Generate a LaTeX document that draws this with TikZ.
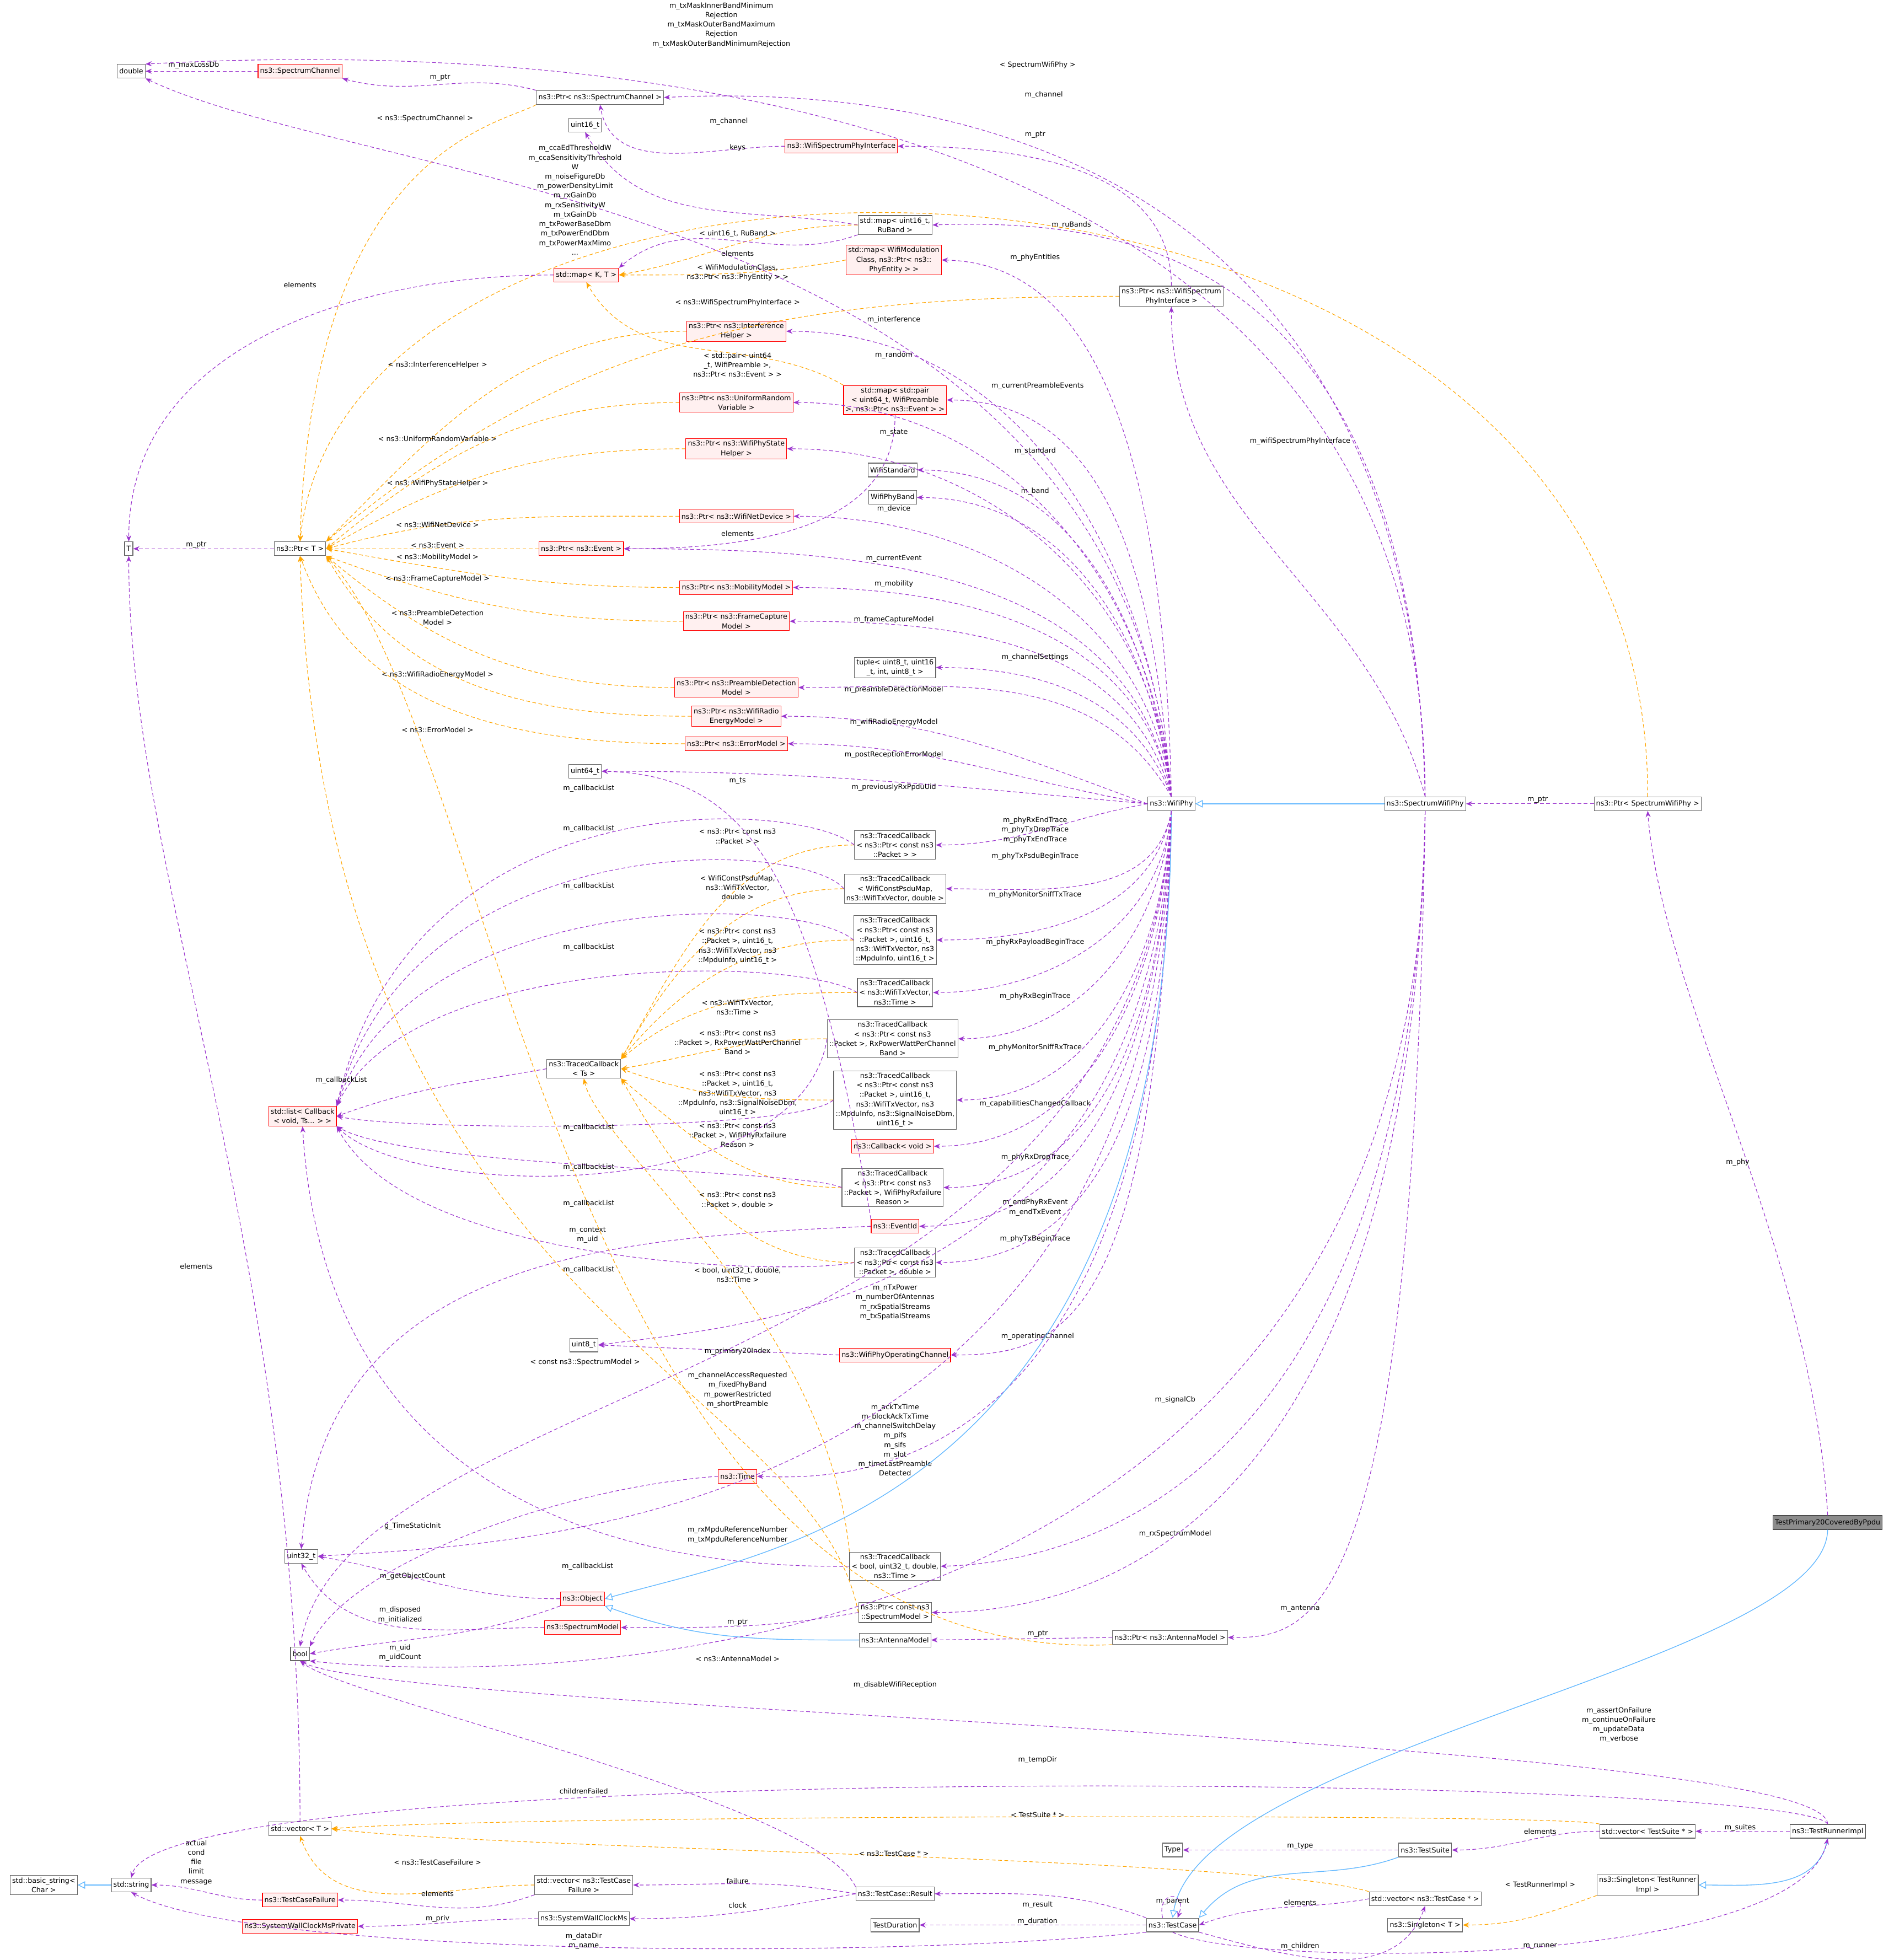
\documentclass[tikz,border=0pt]{standalone}
\usepackage{fontspec}
\setmainfont{DejaVu Sans}
\usetikzlibrary{arrows.meta}
\definecolor{pur}{HTML}{9A32CD}
\definecolor{org}{HTML}{FFA500}
\definecolor{blu}{HTML}{63B8FF}
\definecolor{rbg}{HTML}{FFF0F0}
\newcommand\lb[3]{\node[lbl] at (#1,-#2) {#3};}
\begin{document}
\begin{tikzpicture}[x=1pt,y=1pt,font=\fontsize{5.6}{7.6}\selectfont,
 bx/.style={draw=black!60, fill=white, inner sep=1.6pt, align=center, minimum height=11pt, line width=0.5pt},
 rb/.style={bx, draw=red, fill=rbg},
 gb/.style={bx, draw=black!70, fill=black!45},
 mem/.style={pur, dash pattern=on 3pt off 2pt, line width=0.5pt, -{Stealth[length=5pt,width=4pt]}},
 tpl/.style={org, dash pattern=on 3pt off 2pt, line width=0.5pt, -{Stealth[length=5pt,width=4pt]}},
 inh/.style={blu, line width=0.6pt, -{Triangle[open,length=6pt,width=6pt]}},
 lbl/.style={align=center, inner sep=0.5pt}]
\useasboundingbox (0,0) rectangle (1515,-1568);
% nodes
\node[bx] (dbl) at (105,-57) {double};
\node[rb] (sch) at (240,-57) {ns3::SpectrumChannel};
\node[bx] (psc) at (480,-78) {ns3::Ptr< ns3::SpectrumChannel >};
\node[bx] (u16) at (468,-100) {uint16\_t};
\node[rb] (wspi) at (673,-117) {ns3::WifiSpectrumPhyInterface};
\node[bx] (mru) at (716,-180) {std::map< uint16\_t,\\ RuBand >};
\node[rb] (mkt) at (469,-220) {std::map< K, T >};
\node[rb] (mwm) at (715,-208) {std::map< WifiModulation\\Class, ns3::Ptr< ns3::\\PhyEntity > >};
\node[bx] (pwspi) at (937,-237) {ns3::Ptr< ns3::WifiSpectrum\\PhyInterface >};
\node[rb] (pih) at (589,-265) {ns3::Ptr< ns3::Interference\\Helper >};
\node[rb] (urv) at (589,-322) {ns3::Ptr< ns3::UniformRandom\\Variable >};
\node[rb] (mp) at (716,-320) {std::map< std::pair\\< uint64\_t, WifiPreamble\\>, ns3::Ptr< ns3::Event > >};
\node[rb] (psh) at (589,-359) {ns3::Ptr< ns3::WifiPhyState\\Helper >};
\node[bx] (wstd) at (714,-376) {WifiStandard};
\node[bx] (wband) at (714,-398) {WifiPhyBand};
\node[rb] (pnd) at (589,-413) {ns3::Ptr< ns3::WifiNetDevice >};
\node[rb] (pev) at (465,-439) {ns3::Ptr< ns3::Event >};
\node[bx] (T) at (103,-439) {T};
\node[bx] (ptrT) at (240,-439) {ns3::Ptr< T >};
\node[rb] (pmob) at (589,-470) {ns3::Ptr< ns3::MobilityModel >};
\node[rb] (pfc) at (589,-497) {ns3::Ptr< ns3::FrameCapture\\Model >};
\node[bx] (tup) at (716,-534) {tuple< uint8\_t, uint16\\\_t, int, uint8\_t >};
\node[rb] (ppd) at (589,-550) {ns3::Ptr< ns3::PreambleDetection\\Model >};
\node[rb] (pre) at (589,-573) {ns3::Ptr< ns3::WifiRadio\\EnergyModel >};
\node[rb] (perr) at (589,-595) {ns3::Ptr< ns3::ErrorModel >};
\node[bx] (u64) at (468,-617) {uint64\_t};
\node[bx] (wp) at (937,-643) {ns3::WifiPhy};
\node[bx] (swp) at (1140,-643) {ns3::SpectrumWifiPhy};
\node[bx] (pswp) at (1318,-643) {ns3::Ptr< SpectrumWifiPhy >};
\node[bx] (tc1) at (716,-676) {ns3::TracedCallback\\< ns3::Ptr< const ns3\\::Packet > >};
\node[bx] (tc2) at (716,-711) {ns3::TracedCallback\\< WifiConstPsduMap,\\ ns3::WifiTxVector, double >};
\node[bx] (tc3) at (716,-752) {ns3::TracedCallback\\< ns3::Ptr< const ns3\\::Packet >, uint16\_t,\\ ns3::WifiTxVector, ns3\\::MpduInfo, uint16\_t >};
\node[bx] (tc4) at (716,-794) {ns3::TracedCallback\\< ns3::WifiTxVector,\\ ns3::Time >};
\node[bx] (tc5) at (714,-831) {ns3::TracedCallback\\< ns3::Ptr< const ns3\\::Packet >, RxPowerWattPerChannel\\Band >};
\node[bx] (tcts) at (467,-855) {ns3::TracedCallback\\< Ts >};
\node[rb] (lst) at (242,-893) {std::list< Callback\\< void, Ts... > >};
\node[bx] (tc6) at (716,-880) {ns3::TracedCallback\\< ns3::Ptr< const ns3\\::Packet >, uint16\_t,\\ ns3::WifiTxVector, ns3\\::MpduInfo, ns3::SignalNoiseDbm,\\ uint16\_t >};
\node[rb] (cbv) at (714,-917) {ns3::Callback< void >};
\node[bx] (tc7) at (714,-950) {ns3::TracedCallback\\< ns3::Ptr< const ns3\\::Packet >, WifiPhyRxfailure\\Reason >};
\node[rb] (eid) at (716,-981) {ns3::EventId};
\node[bx] (tc9) at (716,-1010) {ns3::TracedCallback\\< ns3::Ptr< const ns3\\::Packet >, double >};
\node[bx] (u8) at (467,-1076) {uint8\_t};
\node[rb] (opch) at (716,-1084) {ns3::WifiPhyOperatingChannel};
\node[rb] (time) at (590,-1181) {ns3::Time};
\node[bx] (u32) at (241,-1245) {uint32\_t};
\node[bx] (tcb) at (716,-1253) {ns3::TracedCallback\\< bool, uint32\_t, double,\\ ns3::Time >};
\node[rb] (obj) at (466,-1279) {ns3::Object};
\node[bx] (pcsm) at (716,-1290) {ns3::Ptr< const ns3\\::SpectrumModel >};
\node[rb] (sm) at (466,-1302) {ns3::SpectrumModel};
\node[bx] (bool) at (240,-1323) {bool};
\node[bx] (am) at (716,-1312) {ns3::AntennaModel};
\node[bx] (pant) at (936,-1310) {ns3::Ptr< ns3::AntennaModel >};
\node[gb] (tp) at (1462,-1218) {TestPrimary20CoveredByPpdu};
\node[bx] (vT) at (240,-1463) {std::vector< T >};
\node[bx] (vts) at (1318,-1465) {std::vector< TestSuite * >};
\node[bx] (tri) at (1462,-1465) {ns3::TestRunnerImpl};
\node[bx] (type) at (938,-1480) {Type};
\node[bx] (ts) at (1140,-1480) {ns3::TestSuite};
\node[bx] (sgl) at (1318,-1508) {ns3::Singleton< TestRunner\\Impl >};
\node[bx] (vtcf) at (467,-1508) {std::vector< ns3::TestCase\\Failure >};
\node[bx] (bs) at (35,-1508) {std::basic\_string<\\Char >};
\node[bx] (str) at (105,-1508) {std::string};
\node[rb] (tcf) at (240,-1520) {ns3::TestCaseFailure};
\node[bx] (res) at (716,-1515) {ns3::TestCase::Result};
\node[bx] (vtc) at (1140,-1519) {std::vector< ns3::TestCase * >};
\node[bx] (swc) at (467,-1535) {ns3::SystemWallClockMs};
\node[bx] (sglT) at (1140,-1540) {ns3::Singleton< T >};
\node[bx] (td) at (716,-1540) {TestDuration};
\node[bx] (tc) at (938,-1540) {ns3::TestCase};
\node[rb] (swcp) at (240,-1541) {ns3::SystemWallClockMsPrivate};
% top area
\draw[mem] (sch.west) -- (dbl.east); \lb{155}{52}{m\_maxLossDb}
\draw[mem] (psc.north west) to[out=165,in=-15] (sch.south east); \lb{352}{62}{m\_ptr}
\draw[mem] (swp.north) .. controls (1140,-45) and (400,-36) .. (dbl.north east);
\lb{577}{20}{m\_txMaskInnerBandMinimum\\Rejection\\m\_txMaskOuterBandMaximum\\Rejection\\m\_txMaskOuterBandMinimumRejection}
\draw[mem] (swp.north) .. controls (1130,-90) and (700,-70) .. (psc.east); \lb{835}{76}{m\_channel}
\draw[mem] (wspi.west) to[out=180,in=-80] (psc.south); \lb{583}{97}{m\_channel}
\draw[tpl] (pswp.north) .. controls (1320,-60) and (280,-50) .. (ptrT.north); \lb{830}{52}{< SpectrumWifiPhy >}
\draw[tpl] (psc.south west) .. controls (400,-100) and (250,-120) .. (ptrT.north); \lb{340}{95}{< ns3::SpectrumChannel >}
\draw[mem] (mru.west) to[out=170,in=-60] (u16.south); \lb{590}{118}{keys}
\draw[mem] (pwspi.north) to[out=90,in=0] (wspi.east); \lb{828}{108}{m\_ptr}
\draw[mem] (wp.north) .. controls (900,-160) and (300,-150) .. (dbl.south east);
\lb{460}{160}{m\_ccaEdThresholdW\\m\_ccaSensitivityThreshold\\W\\m\_noiseFigureDb\\m\_powerDensityLimit\\m\_rxGainDb\\m\_rxSensitivityW\\m\_txGainDb\\m\_txPowerBaseDbm\\m\_txPowerEndDbm\\m\_txPowerMaxMimo\\...}
\draw[mem] (swp.north) .. controls (1130,-200) and (900,-175) .. (mru.east); \lb{857}{180}{m\_ruBands}
\draw[tpl] (mru.west) to[out=180,in=10] (mkt.east); \lb{590}{187}{< uint16\_t, RuBand >}
\draw[mem] (mru.south west) to[out=200,in=40] (mkt.north east); \lb{590}{203}{elements}
\draw[mem] (wp.north) .. controls (930,-300) and (850,-210) .. (mwm.east); \lb{828}{206}{m\_phyEntities}
\draw[tpl] (mwm.west) to[out=190,in=0] (mkt.east); \lb{590}{218}{< WifiModulationClass,\\ ns3::Ptr< ns3::PhyEntity > >}
\draw[mem] (mkt.west) to[out=180,in=90] (T.north); \lb{240}{228}{elements}
\draw[tpl] (mp.north west) to[out=150,in=-60] (mkt.south); \lb{590}{292}{< std::pair< uint64\\\_t, WifiPreamble >,\\ ns3::Ptr< ns3::Event > >}
\draw[mem] (mp.south) to[out=-90,in=0] (pev.east); \lb{590}{427}{elements}
\draw[tpl] (pwspi.west) to[out=180,in=40] (ptrT.north east); \lb{590}{242}{< ns3::WifiSpectrumPhyInterface >}
\draw[mem] (swp.north) to[out=105,in=-90] (pwspi.south); \lb{1040}{353}{m\_wifiSpectrumPhyInterface}
% WifiPhy upward members
\draw[mem] (wp.north) to[out=95,in=0] (pih.east); \lb{715}{256}{m\_interference}
\draw[tpl] (pih.west) to[out=180,in=45] (ptrT.north east); \lb{350}{292}{< ns3::InterferenceHelper >}
\draw[mem] (wp.north) to[out=95,in=0] (urv.east); \lb{715}{284}{m\_random}
\draw[tpl] (urv.west) to[out=180,in=40] (ptrT.east); \lb{350}{351}{< ns3::UniformRandomVariable >}
\draw[mem] (wp.north) to[out=95,in=0] (mp.east); \lb{830}{309}{m\_currentPreambleEvents}
\draw[mem] (wp.north) to[out=95,in=0] (psh.east); \lb{715}{346}{m\_state}
\draw[tpl] (psh.west) to[out=180,in=30] (ptrT.east); \lb{350}{387}{< ns3::WifiPhyStateHelper >}
\draw[mem] (wp.north) to[out=97,in=0] (wstd.east); \lb{828}{361}{m\_standard}
\draw[mem] (wp.north) to[out=97,in=0] (wband.east); \lb{828}{393}{m\_band}
\draw[mem] (wp.north) to[out=97,in=0] (pnd.east); \lb{715}{407}{m\_device}
\draw[tpl] (pnd.west) to[out=180,in=15] (ptrT.east); \lb{350}{420}{< ns3::WifiNetDevice >}
\draw[tpl] (pev.west) -- (ptrT.east); \lb{350}{436}{< ns3::Event >}
\draw[mem] (wp.north) to[out=100,in=0] (pev.east); \lb{715}{447}{m\_currentEvent}
\draw[mem] (ptrT.west) -- (T.east); \lb{157}{436}{m\_ptr}
\draw[tpl] (pmob.west) to[out=180,in=-10] (ptrT.east); \lb{350}{446}{< ns3::MobilityModel >}
\draw[mem] (wp.north) to[out=100,in=0] (pmob.east); \lb{715}{467}{m\_mobility}
\draw[tpl] (pfc.west) to[out=180,in=-20] (ptrT.south east); \lb{350}{463}{< ns3::FrameCaptureModel >}
\draw[mem] (wp.north) to[out=105,in=0] (pfc.east); \lb{715}{496}{m\_frameCaptureModel}
\draw[mem] (wp.north) to[out=110,in=0] (tup.east); \lb{828}{526}{m\_channelSettings}
\draw[tpl] (ppd.west) to[out=180,in=-40] (ptrT.south east); \lb{350}{494}{< ns3::PreambleDetection\\Model >}
\draw[mem] (wp.north) to[out=120,in=0] (ppd.east); \lb{715}{552}{m\_preambleDetectionModel}
\draw[tpl] (pre.west) to[out=180,in=-60] (ptrT.south east); \lb{350}{540}{< ns3::WifiRadioEnergyModel >}
\draw[mem] (wp.west) to[out=160,in=0] (pre.east); \lb{715}{578}{m\_wifiRadioEnergyModel}
\draw[tpl] (perr.west) to[out=180,in=-70] (ptrT.south); \lb{350}{584}{< ns3::ErrorModel >}
\draw[mem] (wp.west) to[out=170,in=0] (perr.east); \lb{715}{604}{m\_postReceptionErrorModel}
\draw[mem] (wp.west) to[out=175,in=0] (u64.east); \lb{715}{630}{m\_previouslyRxPpduUid}
\draw[mem] (eid.north west) .. controls (650,-700) and (600,-620) .. (u64.east); \lb{590}{625}{m\_ts}
% inheritance and Ptr<SWP>
\draw[inh] (swp.west) -- (wp.east);
\draw[mem] (pswp.west) -- (swp.east); \lb{1230}{640}{m\_ptr}
\draw[mem] (tp.north) .. controls (1450,-1000) and (1330,-800) .. (pswp.south); \lb{1390}{930}{m\_phy}
% traced callbacks
\draw[mem] (wp.west) to[out=190,in=0] (tc1.east); \lb{828}{664}{m\_phyRxEndTrace\\m\_phyTxDropTrace\\m\_phyTxEndTrace}
\draw[mem] (wp.south) to[out=-100,in=0] (tc2.east); \lb{828}{685}{m\_phyTxPsduBeginTrace}
\draw[mem] (wp.south) to[out=-100,in=0] (tc3.east); \lb{828}{716}{m\_phyMonitorSniffTxTrace}
\draw[mem] (wp.south) to[out=-95,in=0] (tc4.east); \lb{828}{754}{m\_phyRxPayloadBeginTrace}
\draw[mem] (wp.south) to[out=-95,in=0] (tc5.east); \lb{828}{797}{m\_phyRxBeginTrace}
\draw[mem] (wp.south) to[out=-93,in=0] (tc6.east); \lb{828}{838}{m\_phyMonitorSniffRxTrace}
\draw[mem] (wp.south) to[out=-93,in=0] (cbv.east); \lb{828}{883}{m\_capabilitiesChangedCallback}
\draw[mem] (wp.south) to[out=-92,in=0] (tc7.east); \lb{828}{926}{m\_phyRxDropTrace}
\draw[mem] (wp.south) to[out=-92,in=0] (eid.east); \lb{828}{966}{m\_endPhyRxEvent\\m\_endTxEvent}
\draw[mem] (wp.south) to[out=-91,in=0] (tc9.east); \lb{828}{991}{m\_phyTxBeginTrace}
\draw[tpl] (tc1.west) to[out=180,in=60] (tcts.north east); \lb{590}{669}{< ns3::Ptr< const ns3\\::Packet > >}
\draw[tpl] (tc2.west) to[out=180,in=60] (tcts.north east); \lb{590}{710}{< WifiConstPsduMap,\\ ns3::WifiTxVector,\\ double >}
\draw[tpl] (tc3.west) to[out=180,in=50] (tcts.north east); \lb{590}{757}{< ns3::Ptr< const ns3\\::Packet >, uint16\_t,\\ ns3::WifiTxVector, ns3\\::MpduInfo, uint16\_t >}
\draw[tpl] (tc4.west) to[out=180,in=40] (tcts.north east); \lb{590}{806}{< ns3::WifiTxVector,\\ ns3::Time >}
\draw[tpl] (tc5.west) to[out=180,in=10] (tcts.east); \lb{590}{834}{< ns3::Ptr< const ns3\\::Packet >, RxPowerWattPerChannel\\Band >}
\draw[tpl] (tc6.west) to[out=180,in=-20] (tcts.east); \lb{590}{875}{< ns3::Ptr< const ns3\\::Packet >, uint16\_t,\\ ns3::WifiTxVector, ns3\\::MpduInfo, ns3::SignalNoiseDbm,\\ uint16\_t >}
\draw[tpl] (tc7.west) to[out=180,in=-40] (tcts.south east); \lb{590}{908}{< ns3::Ptr< const ns3\\::Packet >, WifiPhyRxfailure\\Reason >}
\draw[tpl] (tc9.west) to[out=180,in=-60] (tcts.south east); \lb{590}{960}{< ns3::Ptr< const ns3\\::Packet >, double >}
\draw[tpl] (tcb.north west) .. controls (660,-1050) and (480,-920) .. (tcts.south); \lb{590}{1020}{< bool, uint32\_t, double,\\ ns3::Time >}
\draw[mem] (tc1.west) .. controls (640,-640) and (330,-620) .. (lst.north east); \lb{471}{631}{m\_callbackList}
\draw[mem] (tc2.west) .. controls (640,-670) and (330,-660) .. (lst.north east); \lb{471}{663}{m\_callbackList}
\draw[mem] (tc3.west) .. controls (640,-715) and (330,-710) .. (lst.north east); \lb{471}{709}{m\_callbackList}
\draw[mem] (tc4.west) .. controls (640,-765) and (330,-760) .. (lst.north east); \lb{471}{758}{m\_callbackList}
\draw[mem] (tcts.west) to[out=190,in=20] (lst.east); \lb{273}{864}{m\_callbackList}
\draw[mem] (tc6.west) .. controls (640,-905) and (330,-905) .. (lst.east); \lb{471}{902}{m\_callbackList}
\draw[mem] (tc7.west) .. controls (640,-935) and (330,-935) .. (lst.south east); \lb{471}{934}{m\_callbackList}
\draw[mem] (tc5.west) .. controls (640,-965) and (330,-960) .. (lst.south east); \lb{471}{963}{m\_callbackList}
\draw[mem] (tc9.west) .. controls (640,-1020) and (330,-1015) .. (lst.south east); \lb{471}{1016}{m\_callbackList}
\draw[mem] (tcb.west) .. controls (500,-1255) and (260,-1200) .. (lst.south); \lb{470}{1253}{m\_callbackList}
% lower WifiPhy
\draw[mem] (eid.west) .. controls (500,-990) and (260,-1000) .. (u32.north); \lb{470}{988}{m\_context\\m\_uid}
\draw[mem] (wp.south) .. controls (920,-1040) and (600,-1060) .. (u8.east); \lb{716}{1042}{m\_nTxPower\\m\_numberOfAntennas\\m\_rxSpatialStreams\\m\_txSpatialStreams}
\draw[mem] (opch.west) -- (u8.east); \lb{590}{1081}{m\_primary20Index}
\draw[mem] (wp.south) .. controls (925,-1060) and (850,-1084) .. (opch.east); \lb{830}{1069}{m\_operatingChannel}
\draw[tpl] (pcsm.west) .. controls (650,-1100) and (260,-1050) .. (ptrT.south); \lb{468}{1090}{< const ns3::SpectrumModel >}
\draw[mem] (wp.south) .. controls (910,-1110) and (280,-1100) .. (bool.north); \lb{590}{1112}{m\_channelAccessRequested\\m\_fixedPhyBand\\m\_powerRestricted\\m\_shortPreamble}
\draw[mem] (wp.south) .. controls (930,-1170) and (700,-1185) .. (time.east); \lb{716}{1152}{m\_ackTxTime\\m\_blockAckTxTime\\m\_channelSwitchDelay\\m\_pifs\\m\_sifs\\m\_slot\\m\_timeLastPreamble\\Detected}
\draw[mem] (swp.south) .. controls (1130,-1200) and (850,-1250) .. (tcb.east); \lb{940}{1120}{m\_signalCb}
\draw[mem] (time.west) .. controls (450,-1190) and (280,-1250) .. (bool.north east); \lb{330}{1221}{g\_TimeStaticInit}
\draw[inh] (wp.south) .. controls (935,-1200) and (620,-1240) .. (obj.east);
\draw[mem] (wp.south) .. controls (925,-1230) and (400,-1235) .. (u32.east); \lb{590}{1228}{m\_rxMpduReferenceNumber\\m\_txMpduReferenceNumber}
\draw[mem] (swp.south) .. controls (1130,-1250) and (850,-1290) .. (pcsm.east); \lb{940}{1227}{m\_rxSpectrumModel}
\draw[mem] (obj.west) to[out=180,in=-10] (u32.east); \lb{330}{1261}{m\_getObjectCount}
\draw[mem] (obj.south west) to[out=200,in=10] (bool.east); \lb{320}{1292}{m\_disposed\\m\_initialized}
\draw[mem] (pcsm.west) to[out=190,in=0] (sm.east); \lb{590}{1298}{m\_ptr}
\draw[mem] (sm.west) to[out=180,in=-60] (u32.south); \lb{320}{1322}{m\_uid\\m\_uidCount}
\draw[inh] (am.west) to[out=180,in=-20] (obj.south east);
\draw[mem] (pant.west) -- (am.east); \lb{830}{1307}{m\_ptr}
\draw[mem] (swp.south) .. controls (1130,-1300) and (1050,-1310) .. (pant.east); \lb{1040}{1287}{m\_antenna}
\draw[tpl] (pant.south west) .. controls (450,-1335) and (400,-600) .. (ptrT.south east); \lb{590}{1327}{< ns3::AntennaModel >}
\draw[mem] (swp.south) .. controls (1140,-1360) and (400,-1345) .. (bool.south east); \lb{716}{1348}{m\_disableWifiReception}
% test framework
\draw[mem] (tri.north) .. controls (1460,-1390) and (320,-1370) .. (bool.south); \lb{1295}{1380}{m\_assertOnFailure\\m\_continueOnFailure\\m\_updateData\\m\_verbose}
\draw[mem] (tri.north) .. controls (1440,-1420) and (130,-1405) .. (str.north); \lb{830}{1408}{m\_tempDir}
\draw[mem] (res.north west) .. controls (650,-1440) and (280,-1360) .. (bool.south); \lb{467}{1433}{childrenFailed}
\draw[mem] (vT.north) .. controls (240,-1000) and (103,-700) .. (T.south); \lb{157}{1013}{elements}
\draw[tpl] (vts.north west) .. controls (1250,-1450) and (400,-1452) .. (vT.east); \lb{830}{1452}{< TestSuite * >}
\draw[tpl] (vtc.north west) .. controls (1000,-1485) and (400,-1480) .. (vT.east); \lb{715}{1483}{< ns3::TestCase * >}
\draw[tpl] (vtcf.west) to[out=180,in=-70] (vT.south); \lb{350}{1490}{< ns3::TestCaseFailure >}
\draw[mem] (ts.west) -- (type.east); \lb{1040}{1477}{m\_type}
\draw[mem] (vts.west) to[out=180,in=0] (ts.east); \lb{1232}{1465}{elements}
\draw[mem] (tri.west) -- (vts.east); \lb{1392}{1462}{m\_suites}
\draw[inh] (tri.south) to[out=-100,in=0] (sgl.east);
\draw[tpl] (sgl.south west) to[out=200,in=0] (sglT.east); \lb{1232}{1508}{< TestRunnerImpl >}
\draw[inh] (ts.south west) to[out=200,in=50] (tc.north east);
\draw[inh] (tp.south) .. controls (1460,-1330) and (960,-1400) .. (tc.north);
\draw[mem] (res.west) to[out=170,in=0] (vtcf.east); \lb{590}{1505}{failure}
\draw[mem] (res.west) to[out=190,in=0] (swc.east); \lb{590}{1524}{clock}
\draw[mem] (tc.north west) to[out=160,in=0] (res.east); \lb{830}{1524}{m\_result}
\draw[mem] (tc.west) -- (td.east); \lb{830}{1537}{m\_duration}
\draw[mem] (vtc.west) to[out=190,in=20] (tc.east); \lb{1040}{1522}{elements}
\draw[mem] (tc.south east) to[out=-15,in=-110] (vtc.south); \lb{1040}{1557}{m\_children}
\draw[mem] ([xshift=-8pt]tc.north) .. controls (925,-1512) and (950,-1512) .. ([xshift=4pt]tc.north); \lb{938}{1521}{m\_parent}
\draw[mem] (tc.south) .. controls (1000,-1575) and (1440,-1575) .. (tri.south); \lb{1232}{1557}{m\_runner}
\draw[mem] (tcf.west) to[out=180,in=0] (str.east); \lb{157}{1490}{actual\\cond\\file\\limit\\message}
\draw[mem] (vtcf.south west) to[out=200,in=0] (tcf.east); \lb{350}{1515}{elements}
\draw[mem] (swc.west) to[out=180,in=0] (swcp.east); \lb{350}{1535}{m\_priv}
\draw[mem] (tc.south west) .. controls (700,-1568) and (200,-1565) .. (str.south); \lb{467}{1553}{m\_dataDir\\m\_name}
\draw[inh] (str.west) -- (bs.east);
\end{tikzpicture}
\end{document}
